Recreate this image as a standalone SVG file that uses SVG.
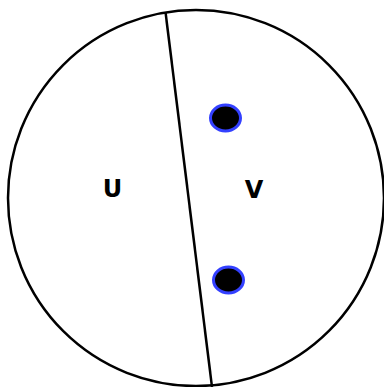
<svg xmlns="http://www.w3.org/2000/svg" width="384" height="387" viewBox="0 0 384 387">
<style>
.outline{fill:none;stroke:#000;stroke-width:2.5}
.lbl{font-family:"DejaVu Sans",Verdana,sans-serif;font-weight:bold;font-size:24px;fill:#000;text-anchor:middle}
.dot{fill:#000;stroke:#3340ff;stroke-width:3}
</style>
<rect width="384" height="387" fill="#fff"/>
<g id="region">
<circle class="outline" cx="196" cy="198" r="188"/>
</g>
<g id="connectors">
<line class="outline" x1="165.5" y1="12" x2="212" y2="387"/>
</g>
<g id="U"><text class="lbl" x="112.5" y="197">U</text></g>
<g id="V"><text class="lbl" x="254" y="198">V</text></g>
<g id="p1"><ellipse class="dot" cx="225.5" cy="118" rx="15" ry="13"/></g>
<g id="p2"><ellipse class="dot" cx="228.5" cy="280" rx="15" ry="13"/></g>
</svg>
